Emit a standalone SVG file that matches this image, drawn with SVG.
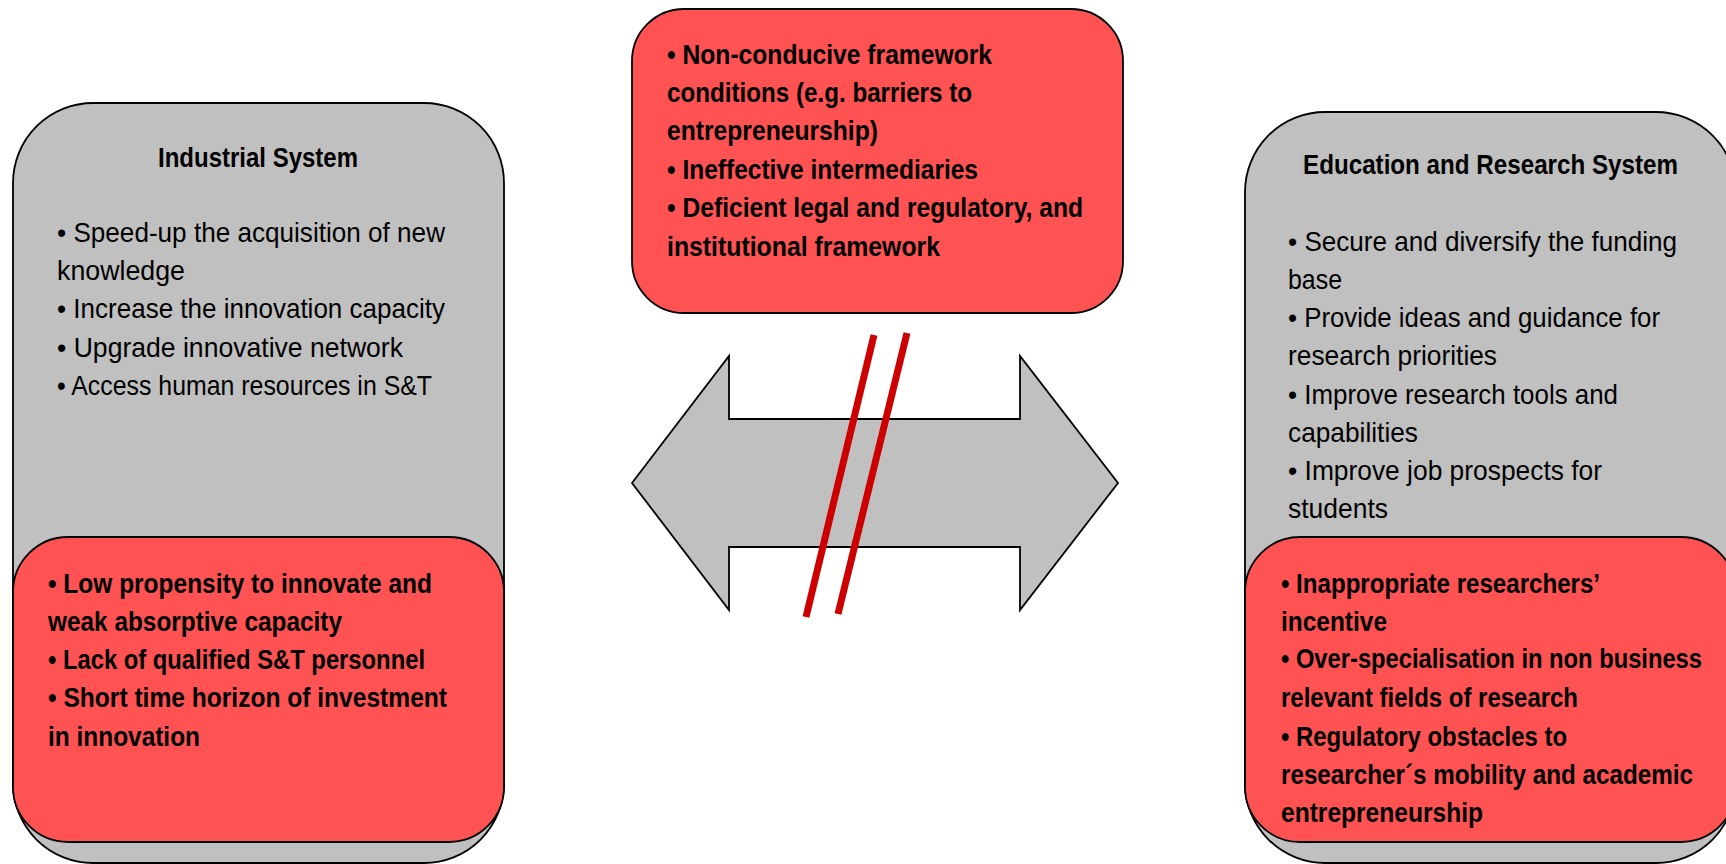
<svg xmlns="http://www.w3.org/2000/svg" width="1726" height="864" viewBox="0 0 1726 864">
<style>
.gray{fill:#C0C0C0;stroke:#000;stroke-width:1.8}
.red{fill:#FF5252;stroke:#000;stroke-width:1.8}
.t{font-family:"Liberation Sans",Arial,sans-serif;font-size:28px;fill:#000}
.b{font-family:"Liberation Sans",Arial,sans-serif;font-size:28px;font-weight:bold;fill:#000}
.slash{stroke:#CC0000;stroke-width:7;fill:none}
</style>
<rect width="1726" height="864" fill="#fff"/>
<g id="industrial-system">
<rect class="gray" x="13" y="103" width="491" height="760" rx="80" ry="80"/>
<text class="b" x="158" y="167" textLength="200" lengthAdjust="spacingAndGlyphs">Industrial System</text>
<text class="t" x="57" y="242" textLength="388" lengthAdjust="spacingAndGlyphs">• Speed-up the acquisition of new</text>
<text class="t" x="57" y="280" textLength="128" lengthAdjust="spacingAndGlyphs">knowledge</text>
<text class="t" x="57" y="318" textLength="388" lengthAdjust="spacingAndGlyphs">• Increase the innovation capacity</text>
<text class="t" x="57" y="357" textLength="346" lengthAdjust="spacingAndGlyphs">• Upgrade innovative network</text>
<text class="t" x="57" y="395" textLength="375" lengthAdjust="spacingAndGlyphs">• Access human resources in S&amp;T</text>
</g>
<g id="industrial-barriers">
<rect class="red" x="13" y="537" width="491" height="305" rx="55" ry="55"/>
<text class="b" x="48" y="593" textLength="384" lengthAdjust="spacingAndGlyphs">• Low propensity to innovate and</text>
<text class="b" x="48" y="631" textLength="294" lengthAdjust="spacingAndGlyphs">weak absorptive capacity</text>
<text class="b" x="48" y="669" textLength="377" lengthAdjust="spacingAndGlyphs">• Lack of qualified S&amp;T personnel</text>
<text class="b" x="48" y="707" textLength="399" lengthAdjust="spacingAndGlyphs">• Short time horizon of investment</text>
<text class="b" x="48" y="746" textLength="152" lengthAdjust="spacingAndGlyphs">in innovation</text>
</g>
<g id="framework-barriers">
<rect class="red" x="632" y="9" width="491" height="304" rx="52" ry="52"/>
<text class="b" x="667" y="64" textLength="325" lengthAdjust="spacingAndGlyphs">• Non-conducive framework</text>
<text class="b" x="667" y="102" textLength="305" lengthAdjust="spacingAndGlyphs">conditions (e.g. barriers to</text>
<text class="b" x="667" y="140" textLength="211" lengthAdjust="spacingAndGlyphs">entrepreneurship)</text>
<text class="b" x="667" y="179" textLength="311" lengthAdjust="spacingAndGlyphs">• Ineffective intermediaries</text>
<text class="b" x="667" y="217" textLength="416" lengthAdjust="spacingAndGlyphs">• Deficient legal and regulatory, and</text>
<text class="b" x="667" y="256" textLength="273" lengthAdjust="spacingAndGlyphs">institutional framework</text>
</g>
<g id="education-research-system">
<rect class="gray" x="1245" y="112" width="491" height="751" rx="80" ry="80"/>
<text class="b" x="1303" y="174" textLength="375" lengthAdjust="spacingAndGlyphs">Education and Research  System</text>
<text class="t" x="1288" y="251" textLength="389" lengthAdjust="spacingAndGlyphs">• Secure and diversify the funding</text>
<text class="t" x="1288" y="289" textLength="54" lengthAdjust="spacingAndGlyphs">base</text>
<text class="t" x="1288" y="327" textLength="372" lengthAdjust="spacingAndGlyphs">• Provide ideas and guidance for</text>
<text class="t" x="1288" y="365" textLength="209" lengthAdjust="spacingAndGlyphs">research priorities</text>
<text class="t" x="1288" y="404" textLength="330" lengthAdjust="spacingAndGlyphs">• Improve research tools and</text>
<text class="t" x="1288" y="442" textLength="130" lengthAdjust="spacingAndGlyphs">capabilities</text>
<text class="t" x="1288" y="480" textLength="314" lengthAdjust="spacingAndGlyphs">• Improve job prospects for</text>
<text class="t" x="1288" y="518" textLength="100" lengthAdjust="spacingAndGlyphs">students</text>
</g>
<g id="education-barriers">
<rect class="red" x="1245" y="537" width="491" height="305" rx="55" ry="55"/>
<text class="b" x="1281" y="593" textLength="319" lengthAdjust="spacingAndGlyphs">• Inappropriate researchers’</text>
<text class="b" x="1281" y="631" textLength="106" lengthAdjust="spacingAndGlyphs">incentive</text>
<text class="b" x="1281" y="668" textLength="421" lengthAdjust="spacingAndGlyphs">• Over-specialisation in non business</text>
<text class="b" x="1281" y="707" textLength="297" lengthAdjust="spacingAndGlyphs">relevant fields of research</text>
<text class="b" x="1281" y="746" textLength="286" lengthAdjust="spacingAndGlyphs">• Regulatory obstacles to</text>
<text class="b" x="1281" y="784" textLength="412" lengthAdjust="spacingAndGlyphs">researcher´s mobility and academic</text>
<text class="b" x="1281" y="822" textLength="202" lengthAdjust="spacingAndGlyphs">entrepreneurship</text>
</g>
<g id="connectors">
<polygon class="gray" points="632,483 729,356 729,419 1020,419 1020,356 1118,483 1020,610 1020,547 729,547 729,610"/>
<line class="slash" x1="874" y1="335" x2="806" y2="617"/>
<line class="slash" x1="907" y1="333" x2="838" y2="614"/>
</g>
</svg>
